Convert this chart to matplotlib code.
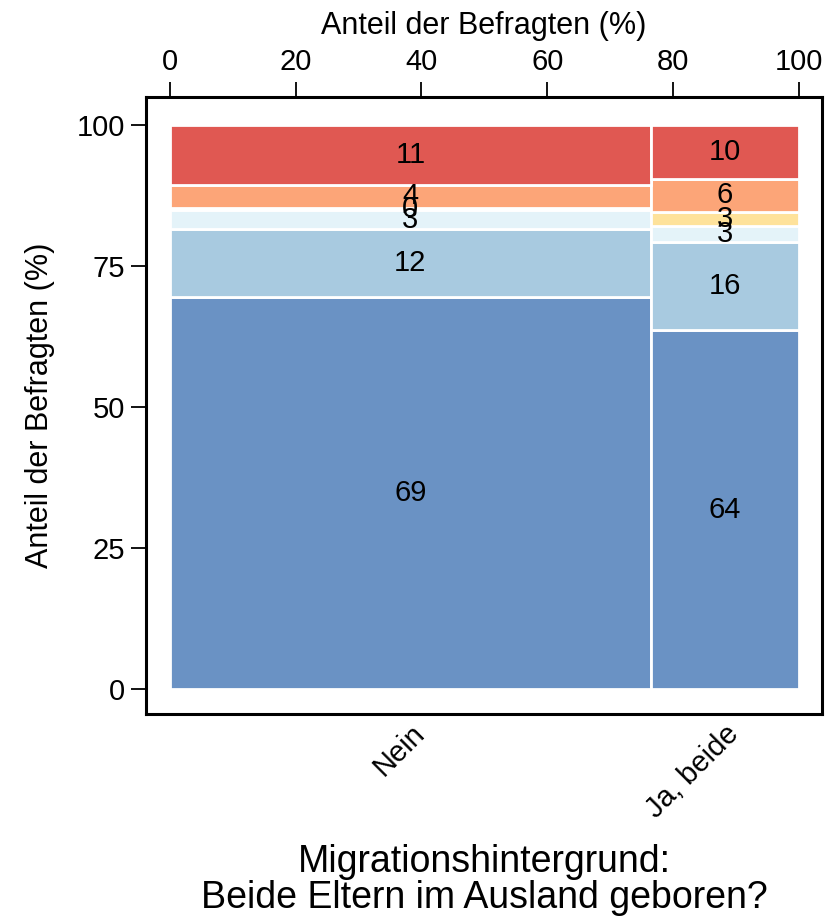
import matplotlib.pyplot as plt
import numpy as np

plt.rcParams['font.family'] = ['Liberation Sans', 'DejaVu Sans']

# Gruppen (x) und ihr Anteil an allen Befragten in %
gruppen = ["Nein", "Ja, beide"]
breite = [76.5, 23.5]

# Anteile je Kategorie innerhalb der Gruppe (von unten nach oben), in %
kat_1 = [69.4, 63.6]
kat_2 = [12.2, 15.7]
kat_3 = [3.2, 2.7]
kat_4 = [0.4, 2.6]
kat_5 = [4.2, 5.8]
kat_6 = [10.6, 9.6]

farben = ["#6A92C4", "#A8CAE0", "#E4F3F9", "#FEE29B", "#FCA578", "#E05852"]

fig = plt.figure(figsize=(8.27, 9.17), dpi=100)
ax = fig.add_axes([0.1765, 0.2214, 0.8175, 0.6728])

links = np.concatenate([[0], np.cumsum(breite)[:-1]])
mitte = links + np.array(breite) / 2
unten = np.zeros(len(gruppen))
for werte, farbe in zip([kat_1, kat_2, kat_3, kat_4, kat_5, kat_6], farben):
    werte = np.array(werte)
    ax.bar(links, werte, width=breite, bottom=unten, align='edge',
           color=farbe, edgecolor='white', linewidth=2)
    for xm, y0, v in zip(mitte, unten, werte):
        ax.text(xm, y0 + v / 2, f"{v:.0f}", ha='center', va='center', fontsize=21)
    unten = unten + werte

ax.set_xlim(-3.8, 103.7)
ax.set_ylim(-4.4, 104.9)

# Achse oben: Anteil der Befragten
ax.set_xticks([0, 20, 40, 60, 80, 100])
ax.tick_params(axis='x', top=True, labeltop=True, bottom=False, labelbottom=False,
               length=11, width=1.3, labelsize=21, pad=4)
ax.xaxis.set_label_position('top')
ax.set_xlabel("Anteil der Befragten (%)", fontsize=22, labelpad=10)

ax.set_yticks([0, 25, 50, 75, 100])
ax.tick_params(axis='y', length=11, width=1.3, labelsize=21, pad=4)
ax.set_ylabel("Anteil der Befragten (%)", fontsize=22, labelpad=16)

for s in ax.spines.values():
    s.set_linewidth(2.2)

# Achse unten: Gruppen
sec = ax.secondary_xaxis('bottom')
sec.set_xticks(mitte, gruppen, rotation=45, ha='right', rotation_mode='anchor')
sec.tick_params(length=0, labelsize=21, pad=4)
sec.spines['bottom'].set_visible(False)
sec.set_xlabel("Migrationshintergrund:\nBeide Eltern im Ausland geboren?",
               fontsize=27, labelpad=15, linespacing=1.0)

fig.savefig("out.png", dpi=100)
